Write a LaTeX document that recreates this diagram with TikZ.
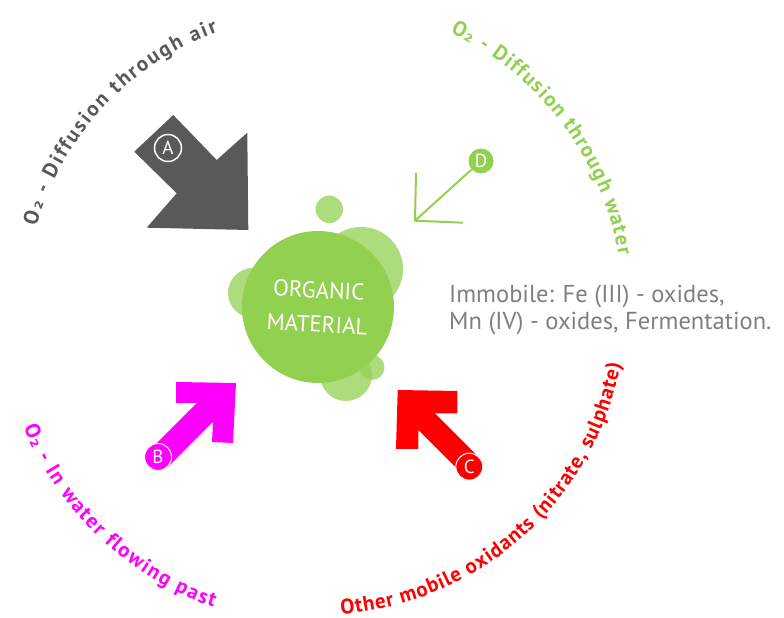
\documentclass[tikz,border=0pt]{standalone}
\usepackage{fontspec}
\setmainfont{PT Sans}
\newfontfamily\subfont{DejaVu Sans}
\usetikzlibrary{decorations.text}
\definecolor{grayA}{HTML}{58595B}
\definecolor{greenM}{HTML}{92D050}
\definecolor{magM}{HTML}{FF00FF}
\definecolor{redM}{HTML}{FF0000}
\definecolor{txtgray}{HTML}{7F7F7F}
\newcommand\arcf[1]{\fontsize{21}{21}\selectfont\bfseries\color{#1}}
\newcommand\subf[1]{\subfont\fontsize{19}{19}\selectfont\bfseries\color{#1}}
\tikzset{
  blob/.style={fill=greenM, fill opacity=0.75},
  letter/.style={circle, inner sep=0pt, minimum size=27pt, text=white, font=\fontsize{19}{19}\selectfont},
  arctext/.style={decorate, decoration={text along path, text align=fit to path, text={#1}}},
  sidetext/.style={anchor=base west, inner sep=0pt, text=txtgray, font=\fontsize{24.5}{24.5}\selectfont},
  dline/.style={draw=greenM, line width=2pt}
}
\begin{document}
\begin{tikzpicture}[x=1pt,y=1pt]
\useasboundingbox (0,0) rectangle (784,618);
\coordinate (O) at (318,311);

% curved labels
\path[arctext={|\arcf{grayA}|O|\subf{grayA}|₂|\arcf{grayA}| - Diffusion through air}]
  ([shift={(164:293pt)}]O) arc[start angle=164, end angle=110, radius=293pt];
\path[arctext={|\arcf{greenM}|O|\subf{greenM}|₂|\arcf{greenM}| - Diffusion through water}]
  ([shift={(64.3:305pt)}]O) arc[start angle=64.3, end angle=9.8, radius=305pt];
\path[arctext={|\arcf{magM}|O|\subf{magM}|₂|\arcf{magM}| - In water flowing past}]
  ([shift={(202.2:318pt)}]O) arc[start angle=202.2, end angle=250.8, radius=318pt];
\path[arctext={|\arcf{redM}|Other mobile oxidants (nitrate, sulphate)}]
  ([shift={(274.3:308pt)}]O) arc[start angle=274.3, end angle=349.3, radius=308pt];

% organic material blobs
\fill[blob] (329.3,408.7) circle[radius=13.7pt];
\fill[blob] (361,349) circle[radius=42pt];
\fill[blob] (253,325) circle[radius=25pt];
\fill[blob] (346,243) circle[radius=26pt];
\fill[blob] (372,250.5) circle[radius=12.5pt];
\node[circle, fill=greenM, minimum size=152pt, inner sep=0pt, text=white, align=center,
      font=\fontsize{23}{34}\selectfont, rotate=-3] (om) at (O) {ORGANIC\\MATERIAL};

% arrow A
\fill[grayA] (173.3,503) -- (216.7,458) -- (247.3,485.3) -- (248.3,388) -- (146.7,390.3)
  -- (176.7,424.7) -- (134.3,466.3) -- cycle;
\node[letter, draw=white, line width=1.5pt] (A) at (168,470) {A};

% arrow B
\fill[magM] (176,236) -- (236,235) -- (233,175) -- (212,176) -- (213,196) -- (168,151)
  -- (152,170) -- (197,215) -- (176,215) -- cycle;
\node[letter, fill=magM, draw=white, line width=1pt] (B) at (158,161) {B};

% arrow C
\fill[redM] (397.7,228) -- (457.3,227) -- (457.3,204.7) -- (435,204.7) -- (478,161.7)
  -- (461.3,145) -- (418.3,188) -- (418.3,169) -- (396,169) -- cycle;
\node[letter, fill=redM, draw=white, line width=1pt] (C) at (469.3,151.3) {C};

% arrow D
\node[letter, fill=greenM, minimum size=25pt] (D) at (481,457) {D};
\coordinate (dtip) at (415,397.3);
\coordinate (dup) at (416,445);
\coordinate (dright) at (463,395.3);
\draw[dline] (D) -- (dtip);
\draw[dline] (dup) -- (dtip) -- (dright);

% side text
\node[sidetext] (imm1) at (449,315) {Immobile: Fe (III) - oxides,};
\node[sidetext] (imm2) at (449,288) {Mn (IV) - oxides, Fermentation.};
\end{tikzpicture}
\end{document}
